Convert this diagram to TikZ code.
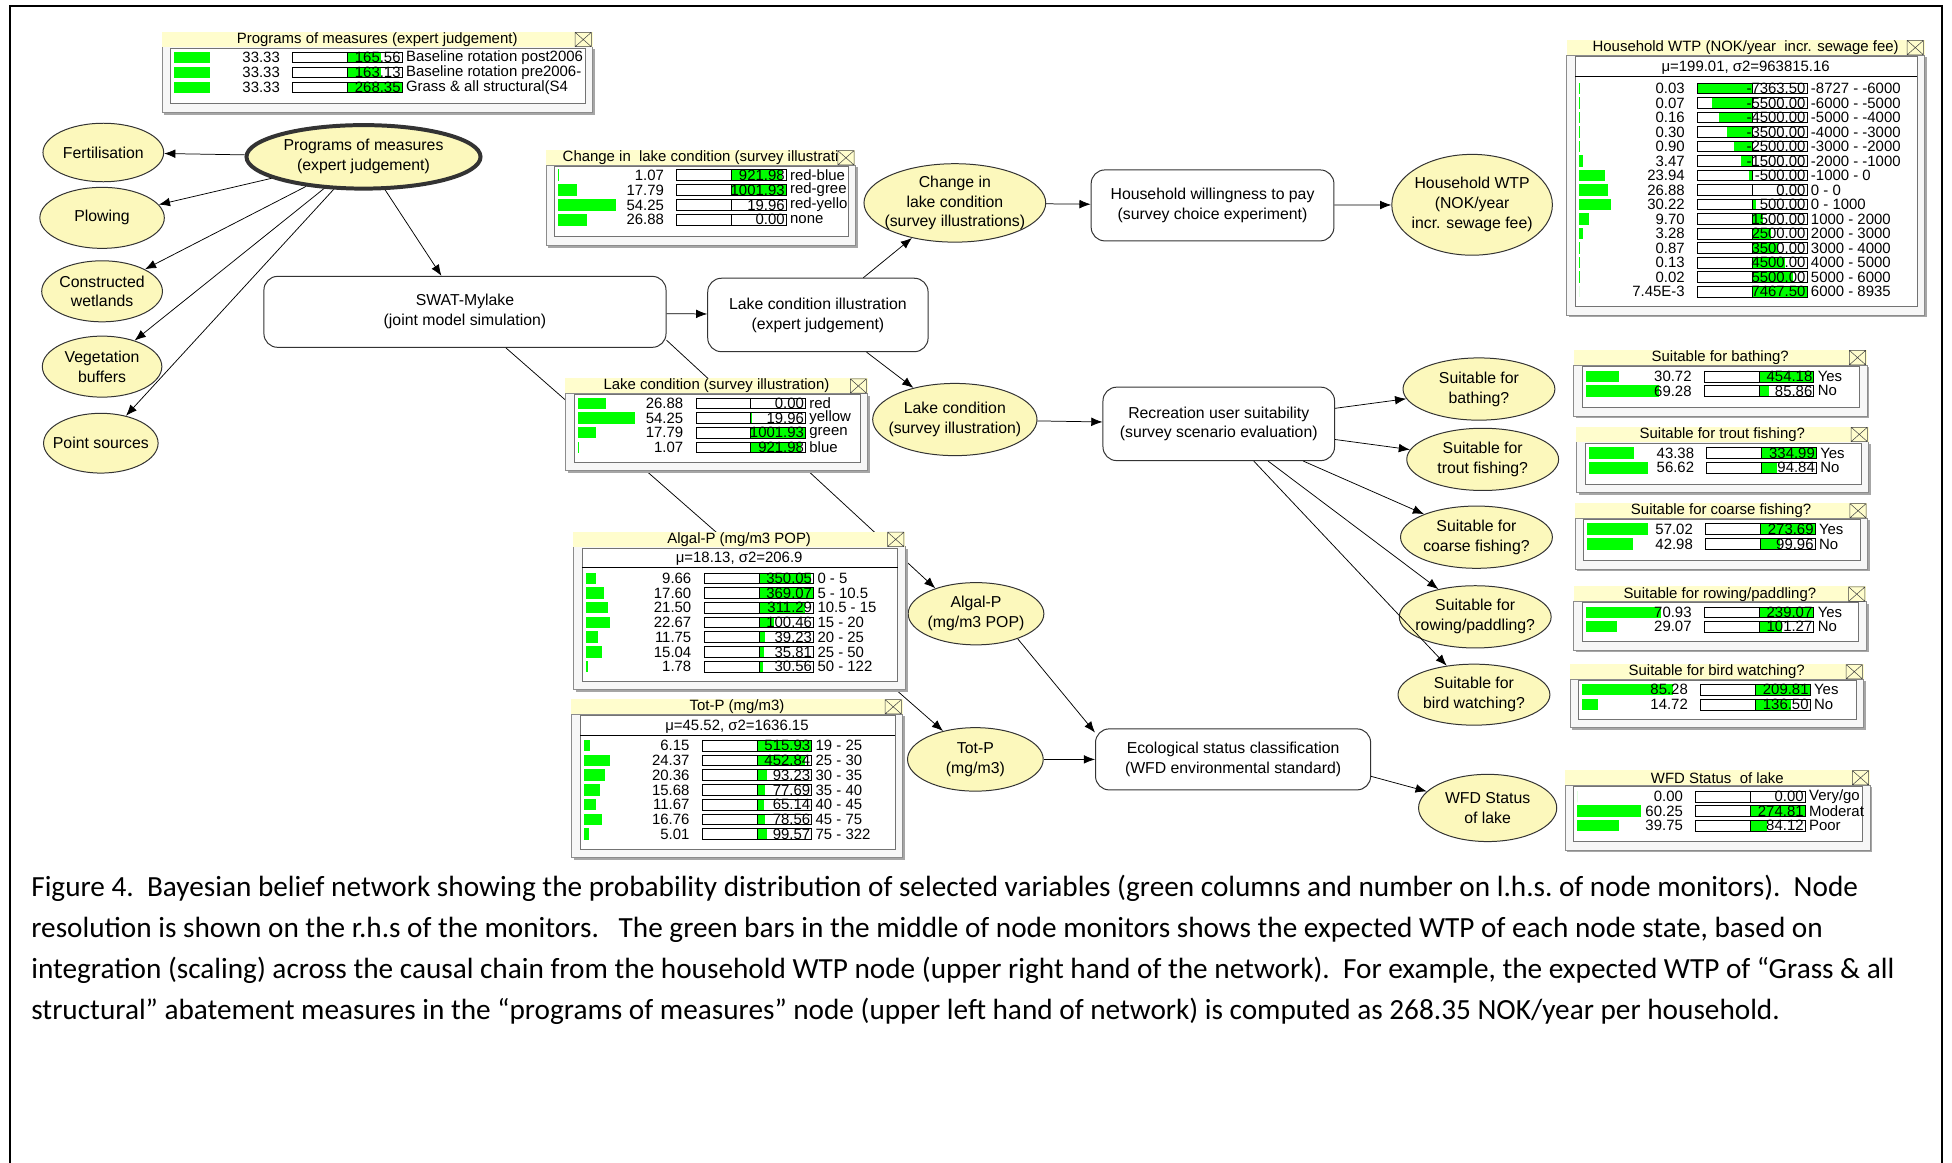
\documentclass[tikz,border=0pt]{standalone}
\usepackage{fontspec}
\setmainfont{Liberation Sans}
\newfontfamily\capfont{Carlito}
\usetikzlibrary{shapes.geometric,arrows.meta}
\definecolor{nodeyellow}{RGB}{252,248,188}
\definecolor{titleyellow}{RGB}{255,253,205}

\begin{document}
\begin{tikzpicture}[x=1pt,y=-1pt,
    chance/.style={ellipse,draw=black!80,fill=nodeyellow,line width=0.8pt,inner sep=0},
    decision/.style={rectangle,rounded corners=11pt,draw=black!80,fill=white,line width=0.8pt,align=center,font=\nodefontsize},
    nodelabel/.style={align=center,inner sep=0,font=\nodefontsize},
    link/.style={-{Latex[length=9pt,width=7pt]},line width=0.6pt},
    montext/.style={inner sep=0,font=\monfontsize},
    monbar/.style={fill=green},
    monbox/.style={draw=black,line width=0.6pt},
    captext/.style={anchor=base west,inner sep=0,font=\capfontsize}]
    \providecommand{\nodefontsize}{\fontsize{12.7}{16}\selectfont}
    \providecommand{\monfontsize}{\fontsize{12}{12}\selectfont}
    \providecommand{\capfontsize}{\capfont\fontsize{23.5}{33}\selectfont}
    % chance node: [options] name, x, y, width, height, text
    \providecommand{\chancenode}[7][]{%
        \node[chance,#1,minimum width=#5pt,minimum height=#6pt] (#2) at (#3,#4) {};
        \node[nodelabel] (#2text) at (#2) {#7};}
    % monitor frame: name, left, top, right, bottom, title
    \providecommand{\monframe}[6]{%
        \fill[black!35] (#2+2,#3+14) rectangle (#4+2,#5+2);
        \filldraw[fill=black!3,draw=black!45] (#2,#3+12) rectangle (#4,#5);
        \filldraw[fill=white,draw=black!55] (#2+7,#3+13) rectangle (#4-6,#5-7);
        \fill[titleyellow] (#2,#3) rectangle (#4,#3+12);
        \node[montext] (#1title) at ({(#2+#4)/2},#3+6.3) {#6};
        \draw[black!75] (#4-14,#3+0.5) rectangle (#4-1,#3+12)
            (#4-14,#3+0.5) -- (#4-1,#3+12) (#4-14,#3+12) -- (#4-1,#3+0.5);}
    % mean line: name, left, right, y, text
    \providecommand{\monmean}[5]{%
        \node[montext] (#1mean) at ({(#2+#3)/2},#4) {#5};
        \draw[line width=0.8pt] (#2+7,#4+7) -- (#3-6,#4+7);}
    % monitor rows: name, left, first row y, row step, largest value, rows
    \providecommand{\monrows}[6]{%
        \foreach \p/\v/\s [count=\i] in {#6} {
            \pgfmathsetmacro{\yy}{#3+(\i-1)*#4}
            \pgfmathsetmacro{\vw}{\v/#5*44}
            \fill[monbar] (#2+10,\yy-4.6) rectangle (#2+10+0.85*\p,\yy+4.6);
            \node[montext,anchor=east] (#1p\i) at (#2+95,\yy) {\p};
            \fill[white] (#2+105,\yy-4.3) rectangle (#2+193,\yy+4.3);
            \fill[monbar] (#2+149,\yy-4.3) rectangle (#2+149+\vw,\yy+4.3);
            \draw (#2+149,\yy-4.3) -- (#2+149,\yy+4.3);
            \node[montext,anchor=east] (#1v\i) at (#2+192,\yy) {\v};
            \draw[monbox] (#2+105,\yy-4.3) rectangle (#2+193,\yy+4.3);
            \node[montext,anchor=west] (#1s\i) at (#2+196,\yy) {\s};
        }}
    \useasboundingbox (0,0) rectangle (1568,934.2);
    \draw[line width=1.2pt] (8,934.2) -- (8,5) -- (1560,5) -- (1560,934.2);

    % network
    \chancenode[line width=3.2pt]{pm}{292}{126}{188}{51}{Programs of measures\\(expert judgement)}
    \chancenode{fert}{83}{122.5}{97}{47}{Fertilisation}
    \chancenode{plow}{82}{175}{100}{49}{Plowing}
    \chancenode{cw}{82}{234}{97}{49}{Constructed\\wetlands}
    \chancenode{vb}{82}{294.5}{96}{49}{Vegetation\\buffers}
    \chancenode{ps}{81}{356}{92}{48}{Point sources}
    \node[decision,minimum width=323pt,minimum height=57pt] (swat) at (373.5,250.5) {SWAT-Mylake\\(joint model simulation)};
    \node[decision,minimum width=177pt,minimum height=59pt] (lci) at (657,253) {Lake condition illustration\\(expert judgement)};
    \chancenode{clc}{767}{163}{146}{63}{Change in\\lake condition\\(survey illustrations)}
    \node[decision,minimum width=195pt,minimum height=57pt] (hwp) at (974,165) {Household willingness to pay\\(survey choice experiment)};
    \chancenode{hwtp}{1182.5}{164.5}{129}{81}{Household WTP\\(NOK/year\\incr. sewage fee)}
    \chancenode{lcs}{767}{337}{132}{58}{Lake condition\\(survey illustration)}
    \node[decision,minimum width=186pt,minimum height=59pt] (rec) at (979,340.5) {Recreation user suitability\\(survey scenario evaluation)};
    \chancenode{bath}{1188}{312.5}{122}{50}{Suitable for\\bathing?}
    \chancenode{trout}{1191}{369}{122}{50}{Suitable for\\trout fishing?}
    \chancenode{coarse}{1186}{431.5}{122}{50}{Suitable for\\coarse fishing?}
    \chancenode{rowing}{1185}{495.5}{122}{50}{Suitable for\\rowing/paddling?}
    \chancenode{bird}{1184}{558}{122}{49}{Suitable for\\bird watching?}
    \chancenode{ap}{784}{493}{109}{50}{Algal-P\\(mg/m3 POP)}
    \chancenode{tp}{783.5}{610}{109}{51}{Tot-P\\(mg/m3)}
    \node[decision,minimum width=221pt,minimum height=49pt] (eco) at (990.5,610) {Ecological status classification\\(WFD environmental standard)};
    \chancenode{wfd}{1195}{649}{111}{54}{WFD Status\\of lake}

    % links
    \foreach \to in {fert,plow,cw,vb,ps,swat}
        \draw[link] (pm) -- (\to);
    \draw[link] (swat) -- (lci);
    \draw[link] (lci) -- (clc);
    \draw[link] (lci) -- (lcs);
    \draw[link] (clc) -- (hwp);
    \draw[link] (hwp) -- (hwtp);
    \draw[link] (lcs) -- (rec);
    \foreach \to in {bath,trout,coarse,rowing,bird}
        \draw[link] (rec) -- (\to);
    \draw[link] (swat.-8) -- (ap.148);
    \draw[link] (swat) -- (tp);
    \draw[link] (ap.-31) -- (eco.169);
    \draw[link] (tp) -- (eco);
    \draw[link] (eco.-7) -- (wfd);

    % node monitors
    \monframe{pom}{130}{25.5}{476}{90}{Programs of measures (expert judgement)}
    \monrows{pom}{130}{46.2}{12}{268.35}{33.33/165.56/Baseline rotation post2006, 33.33/163.13/Baseline rotation pre2006-, 33.33/268.35/{Grass \& all structural(S4}}
    \monframe{clcm}{438.5}{120.5}{687}{197}{Change in\ \ lake condition (survey illustrati}
    \monrows{clcm}{438.5}{140.6}{12}{1001.93}{1.07/921.98/red-blue, 17.79/1001.93/red-gree, 54.25/19.96/red-yello, 26.88/0.00/none}
    \monframe{wtpm}{1258.5}{32}{1546}{253}{Household WTP (NOK/year\ \ incr. sewage fee)}
    \monmean{wtpm}{1258.5}{1546}{54.5}{μ=199.01, σ2=963815.16}
    \monrows{wtpm}{1258.5}{71}{11.66}{7467.5}{0.03/-7363.50/-8727 - -6000, 0.07/-5500.00/-6000 - -5000, 0.16/-4500.00/-5000 - -4000, 0.30/-3500.00/-4000 - -3000, 0.90/-2500.00/-3000 - -2000, 3.47/-1500.00/-2000 - -1000, 23.94/-500.00/-1000 - 0, 26.88/0.00/0 - 0, 30.22/500.00/0 - 1000, 9.70/1500.00/1000 - 2000, 3.28/2500.00/2000 - 3000, 0.87/3500.00/3000 - 4000, 0.13/4500.00/4000 - 5000, 0.02/5500.00/5000 - 6000, 7.45E-3/7467.50/6000 - 8935}
    \monframe{lcm}{454}{303.8}{697}{378}{Lake condition (survey illustration)}
    \monrows{lcm}{454}{324}{11.8}{1001.93}{26.88/0.00/red, 54.25/19.96/yellow, 17.79/1001.93/green, 1.07/921.98/blue}
    \monframe{apm}{460.5}{427}{727}{554}{Algal-P (mg/m3 POP)}
    \monmean{apm}{460.5}{727}{449}{μ=18.13, σ2=206.9}
    \monrows{apm}{460.5}{464.5}{11.83}{369.07}{9.66/350.05/0 - 5, 17.60/369.07/5 - 10.5, 21.50/311.29/10.5 - 15, 22.67/100.46/15 - 20, 11.75/39.23/20 - 25, 15.04/35.81/25 - 50, 1.78/30.56/50 - 122}
    \monframe{tpm}{459}{561.5}{725}{689}{Tot-P (mg/m3)}
    \monmean{tpm}{459}{725}{583.6}{μ=45.52, σ2=1636.15}
    \monrows{tpm}{459}{599}{11.83}{515.93}{6.15/515.93/19 - 25, 24.37/452.84/25 - 30, 20.36/93.23/30 - 35, 15.68/77.69/35 - 40, 11.67/65.14/40 - 45, 16.76/78.56/45 - 75, 5.01/99.57/75 - 322}
    \monframe{bathm}{1264}{281}{1499.6}{334}{Suitable for bathing?}
    \monrows{bathm}{1264}{302.5}{11.5}{454.18}{30.72/454.18/Yes, 69.28/85.86/No}
    \monframe{troutm}{1266}{342.7}{1501}{395.7}{Suitable for trout fishing?}
    \monrows{troutm}{1266}{364}{11.8}{334.99}{43.38/334.99/Yes, 56.62/94.84/No}
    \monframe{coarsem}{1265}{404}{1500}{457}{Suitable for coarse fishing?}
    \monrows{coarsem}{1265}{425}{12}{273.69}{57.02/273.69/Yes, 42.98/99.96/No}
    \monframe{rowm}{1264}{471}{1499}{522}{Suitable for rowing/paddling?}
    \monrows{rowm}{1264}{491.8}{11.5}{239.07}{70.93/239.07/Yes, 29.07/101.27/No}
    \monframe{birdm}{1261}{533.3}{1497}{584.5}{Suitable for bird watching?}
    \monrows{birdm}{1261}{554}{12}{209.81}{85.28/209.81/Yes, 14.72/136.50/No}
    \monframe{wfdm}{1257}{618.5}{1502}{682.7}{WFD Status\ \ of lake}
    \monrows{wfdm}{1257}{640}{11.6}{274.81}{0.00/0.00/{Very/go}, 60.25/274.81/Moderat, 39.75/84.12/Poor}

    % caption
    \frenchspacing
    \foreach \captext [count=\i] in {
        {Figure 4.\ \ Bayesian belief network showing the probability distribution of selected variables (green columns and number on l.h.s. of node monitors).\ \ Node},
        {resolution is shown on the r.h.s of the monitors.\ \ \ The green bars in the middle of node monitors shows the expected WTP of each node state, based on},
        {integration (scaling) across the causal chain from the household WTP node (upper right hand of the network).\ \ For example, the expected WTP of “Grass \& all},
        {structural” abatement measures in the “programs of measures” node (upper left hand of network) is computed as 268.35 NOK/year per household.}}
        \node[captext] (cap\i) at (25,687+33*\i) {\captext};
\end{tikzpicture}
\end{document}
